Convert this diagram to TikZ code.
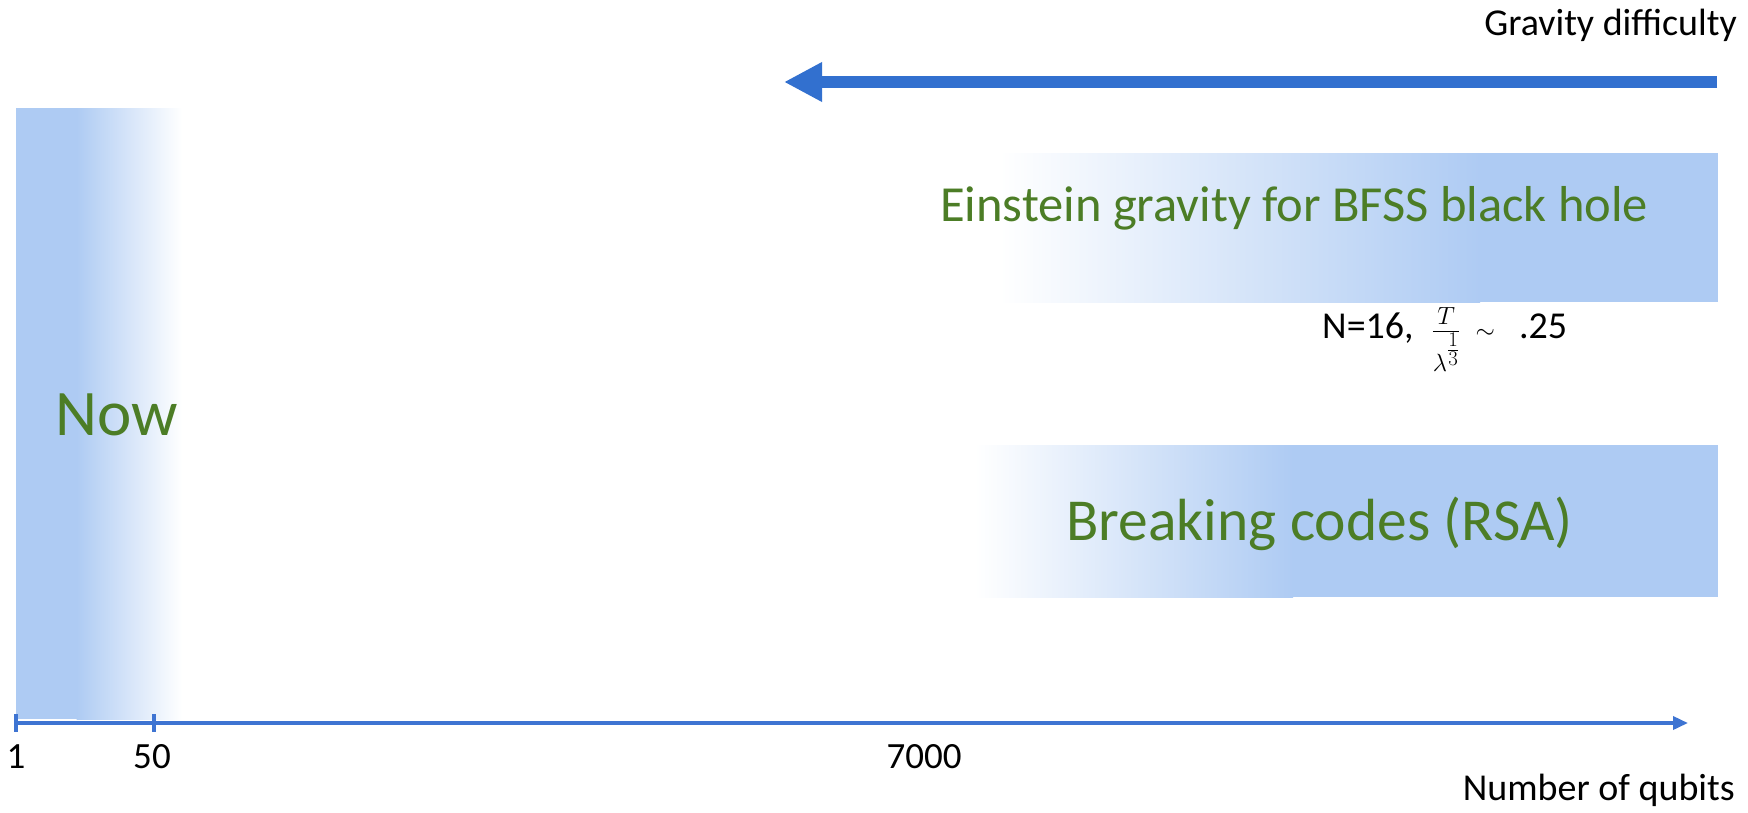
\documentclass[tikz,border=0pt]{standalone}
\usepackage{fontspec}
\usepackage{amsmath}
\setmainfont{Carlito}
\usetikzlibrary{arrows.meta}
\definecolor{arrowblue}{RGB}{50,112,207}
\definecolor{axisblue}{RGB}{62,116,210}
\definecolor{boxblue}{RGB}{174,203,243}
\definecolor{labgreen}{RGB}{76,125,38}
\tikzset{
  fs/.style={font=\fontsize{#1}{#1}\selectfont},
  greentext/.style={text=labgreen, inner sep=0pt},
  blacktext/.style={text=black, inner sep=0pt},
  fadebox/.style={left color=white, right color=boxblue, draw=none},
  solidbox/.style={fill=boxblue, draw=none},
  bigarrow/.style={draw=arrowblue, line width=12pt, -{Triangle[length=38pt,width=37pt]}},
  axisline/.style={draw=axisblue, line width=3.5pt, -{Triangle[length=15pt,width=13pt]}},
  tickmark/.style={draw=axisblue, line width=3.5pt}
}
\begin{document}
\begin{tikzpicture}[x=1pt,y=-1pt]
\useasboundingbox[fill=white] (0,0) rectangle (1748,812);
% Now band
\fill[solidbox] (16,108) rectangle (77,719);
\shade[left color=boxblue, right color=white] (76.5,108) rectangle (182,719);
% Einstein box
\shade[fadebox] (1000,153) rectangle (1480,302);
\fill[solidbox] (1479.5,153) rectangle (1718,302);
% Breaking box
\shade[fadebox] (975,445) rectangle (1293,597);
\fill[solidbox] (1292.5,445) rectangle (1718,597);
% texts
\node[blacktext, fs=38, anchor=base east] (grav) at (1737,35) {Gravity difficulty};
\node[greentext, fs=50.5, anchor=base west] (einstein) at (940,221) {Einstein gravity for BFSS black hole};
\node[blacktext, fs=38, anchor=base west] (formula) at (1322,338) {N=16,\hspace{18pt}{\fontsize{44}{44}\selectfont$\frac{T\rule[-6pt]{0pt}{6pt}}{\lambda^{\rule[-12pt]{0pt}{12pt}\genfrac{}{}{}{2}{\scriptscriptstyle 1}{\scriptscriptstyle 3}}}$}\hspace{15pt}$\sim$\hspace{24pt}.25};
\node[greentext, fs=59.5, anchor=base west] (breaking) at (1066,540) {Breaking codes (RSA)};
\node[greentext, fs=65, anchor=base west] (now) at (55,435) {Now};
% top arrow
\coordinate (arrR) at (1717,82);
\coordinate (arrL) at (784,82);
\draw[bigarrow] (arrR) -- (arrL);
% axis
\coordinate (ax0) at (16,723);
\coordinate (ax1) at (1688,723);
\draw[axisline] (ax0) -- (ax1);
\coordinate (t1a) at (16,714); \coordinate (t1b) at (16,732);
\coordinate (t2a) at (154,714); \coordinate (t2b) at (154,732);
\draw[tickmark] (t1a) -- (t1b);
\draw[tickmark] (t2a) -- (t2b);
\node[blacktext, fs=37, anchor=base] (l1) at (16,768) {1};
\node[blacktext, fs=37, anchor=base] (l50) at (152,768) {50};
\node[blacktext, fs=37, anchor=base] (l7000) at (924,768) {7000};
\node[blacktext, fs=38, anchor=base east] (nq) at (1735,800) {Number of qubits};
\end{tikzpicture}
\end{document}
